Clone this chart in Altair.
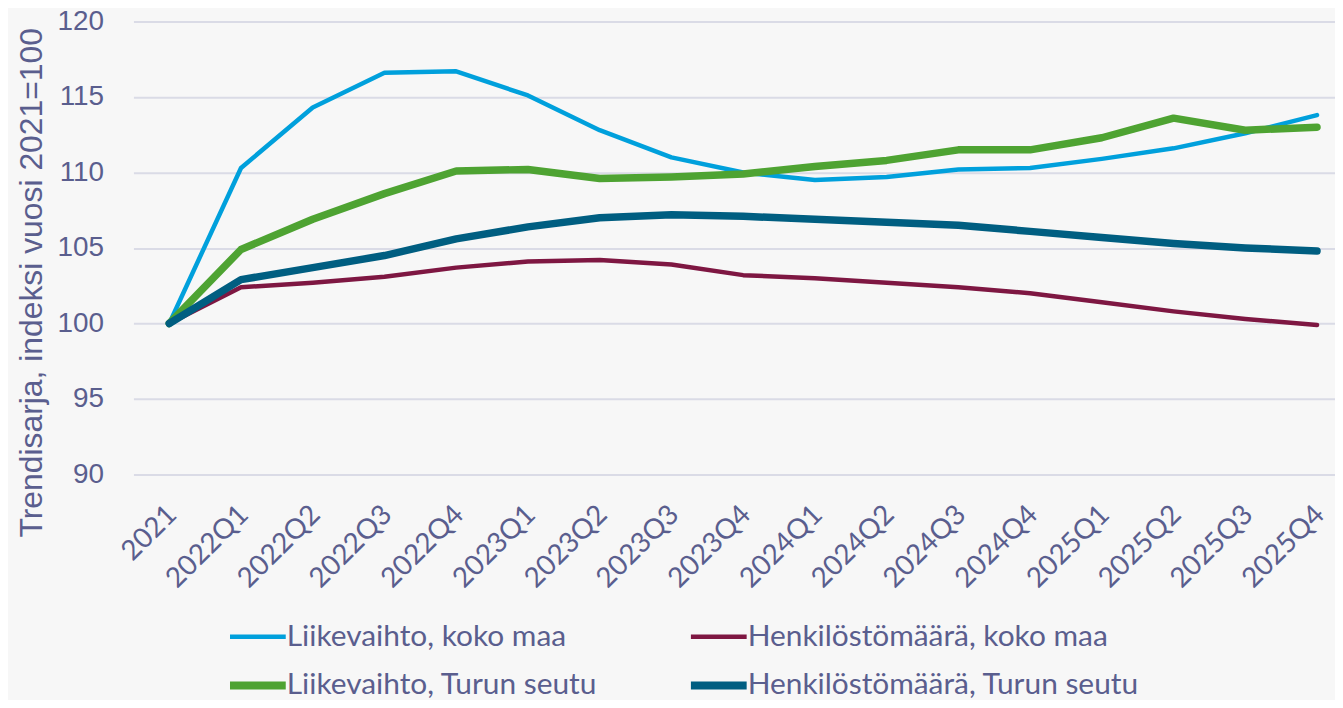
import altair as alt
import pandas as pd

cats = ["2021", "2022Q1", "2022Q2", "2022Q3", "2022Q4", "2023Q1", "2023Q2", "2023Q3",
        "2023Q4", "2024Q1", "2024Q2", "2024Q3", "2024Q4", "2025Q1", "2025Q2", "2025Q3", "2025Q4"]

series_names = ["Liikevaihto, koko maa", "Henkilöstömäärä, koko maa",
                "Liikevaihto, Turun seutu", "Henkilöstömäärä, Turun seutu"]

liikevaihto_koko_maa = [100, 110.3, 114.3, 116.6, 116.7, 115.1, 112.8, 111.0, 110.0,
                        109.5, 109.7, 110.2, 110.3, 110.9, 111.6, 112.6, 113.8]
henkilosto_koko_maa = [100, 102.4, 102.7, 103.1, 103.7, 104.1, 104.2, 103.9, 103.2,
                       103.0, 102.7, 102.4, 102.0, 101.4, 100.8, 100.3, 99.9]
liikevaihto_turku = [100, 104.9, 106.9, 108.6, 110.1, 110.2, 109.6, 109.7, 109.9,
                     110.4, 110.8, 111.5, 111.5, 112.3, 113.6, 112.8, 113.0]
henkilosto_turku = [100, 102.9, 103.7, 104.5, 105.6, 106.4, 107.0, 107.2, 107.1,
                    106.9, 106.7, 106.5, 106.1, 105.7, 105.3, 105.0, 104.8]

colors = ["#00A0DC", "#7E1742", "#4EA332", "#005E81"]
thick_series = ["Liikevaihto, Turun seutu", "Henkilöstömäärä, Turun seutu"]
THIN, THICK = 4.5, 7.5

TEXT = "#5A5E8E"
GRID = "#DADBE6"
BG = "#F7F7F7"

rows = []
for name, vals in zip(series_names, [liikevaihto_koko_maa, henkilosto_koko_maa,
                                     liikevaihto_turku, henkilosto_turku]):
    for c, v in zip(cats, vals):
        rows.append({"Jakso": c, "Sarja": name, "Arvo": v})
df = pd.DataFrame(rows)

thick_list = "[" + ",".join("'" + s + "'" for s in thick_series) + "]"
legend_width_expr = f"indexof({thick_list}, datum.value) >= 0 ? {THICK + 0.5} : {THIN}"

chart = alt.Chart(df).mark_line(strokeCap="round", strokeJoin="round").encode(
    x=alt.X("Jakso:N", sort=cats, title=None,
            scale=alt.Scale(type="point", padding=0.375, align=0.666),
            axis=alt.Axis(labelAngle=-45, labelFont="Lato", labelFontSize=28,
                          labelColor=TEXT, domain=False, ticks=False, grid=False,
                          labelPadding=26, labelOffset=-7)),
    y=alt.Y("Arvo:Q", title="Trendisarja, indeksi vuosi 2021=100",
            scale=alt.Scale(domain=[90, 120], nice=False, zero=False),
            axis=alt.Axis(values=[90, 95, 100, 105, 110, 115, 120], labelFont="Liberation Sans",
                          labelFontSize=28, labelColor=TEXT, labelPadding=30,
                          domain=False, ticks=False, grid=True, gridColor=GRID, gridWidth=2,
                          titleFont="Liberation Sans", titleFontSize=32, titleFontWeight="normal",
                          titleColor=TEXT, titleX=-102, titleY=262, titleAngle=270,
                          titleAlign="center", titleBaseline="middle")),
    color=alt.Color("Sarja:N", sort=series_names,
                    scale=alt.Scale(domain=series_names, range=colors),
                    legend=alt.Legend(
                        orient="none", legendX=110, legendY=603, columns=2, direction="horizontal",
                        symbolType="stroke", symbolSize=3136,
                        symbolStrokeWidth=alt.ExprRef(expr=legend_width_expr),
                        labelFont="Lato", labelFontSize=30, labelColor=TEXT, labelOffset=14,
                        columnPadding=77, rowPadding=18, labelLimit=600, title=None,
                        gridAlign="each")),
    strokeWidth=alt.condition(alt.FieldOneOfPredicate(field="Sarja", oneOf=thick_series),
                              alt.value(THICK), alt.value(THIN)),
).properties(
    width=1207, height=455,
    autosize=alt.AutoSizeParams(type="none"),
    padding={"left": 126, "top": 12, "right": 0, "bottom": 225},
    background=BG,
).configure_view(stroke=None)

chart.save("out.html", embed_options={"renderer": "svg", "actions": False})
